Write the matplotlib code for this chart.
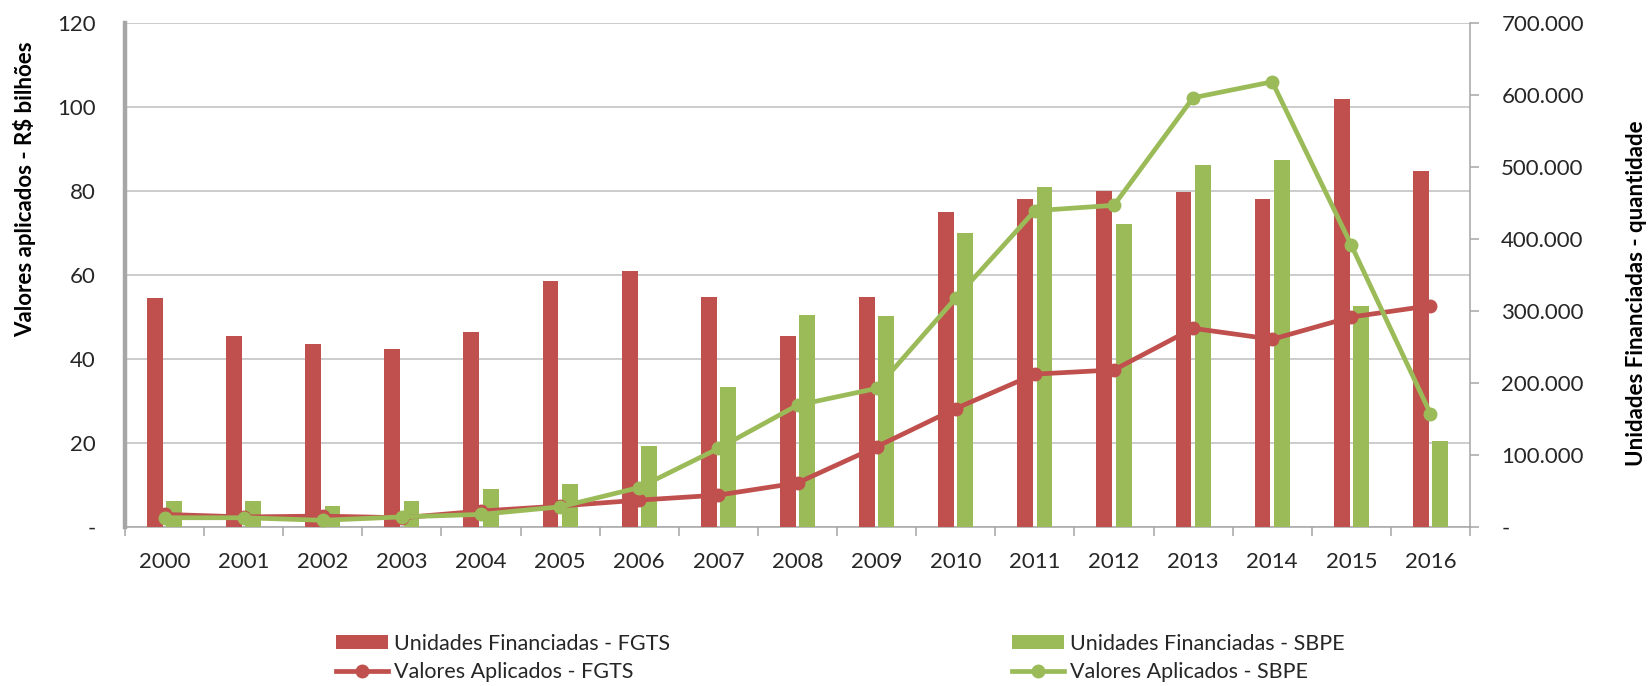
import matplotlib
matplotlib.use("Agg")
import matplotlib.pyplot as plt
import numpy as np
from matplotlib.lines import Line2D
from matplotlib.patches import Patch

plt.rcParams['font.family'] = ['Lato', 'DejaVu Sans']

# ---------------- data ----------------
years = ['2000', '2001', '2002', '2003', '2004', '2005', '2006', '2007', '2008',
         '2009', '2010', '2011', '2012', '2013', '2014', '2015', '2016']
unid_fgts = [318000, 265000, 254000, 247000, 271000, 342000, 356000, 320000, 265000,
             320000, 437000, 455000, 467000, 465000, 455000, 594000, 494000]
unid_sbpe = [36000, 36000, 29000, 36000, 53000, 60000, 112000, 195000, 295000,
             293000, 408000, 472000, 421000, 503000, 510000, 307000, 120000]
val_fgts = [3.0, 2.4, 2.6, 2.2, 3.8, 5.0, 6.4, 7.6, 10.5, 19.1, 28.2, 36.4, 37.4,
            47.3, 44.7, 50.0, 52.7]
val_sbpe = [2.2, 2.2, 1.6, 2.4, 3.0, 4.8, 9.4, 18.7, 29.0, 33.0, 54.5, 75.3, 76.6,
            102.2, 106.0, 67.1, 27.0]
left_ticks = [0, 20, 40, 60, 80, 100, 120]
left_labels = ['-', '20', '40', '60', '80', '100', '120']
right_ticks = [0, 100000, 200000, 300000, 400000, 500000, 600000, 700000]
right_labels = ['-', '100.000', '200.000', '300.000', '400.000', '500.000',
                '600.000', '700.000']
lbl_bar_fgts = 'Unidades Financiadas - FGTS'
lbl_bar_sbpe = 'Unidades Financiadas - SBPE'
lbl_line_fgts = 'Valores Aplicados - FGTS'
lbl_line_sbpe = 'Valores Aplicados - SBPE'
ylabel_left = 'Valores aplicados - R$ bilhões'
ylabel_right = 'Unidades Financiadas - quantidade'

# ---------------- style ----------------
RED = '#C0504D'
GREEN = '#9BBB59'
GRID = '#BFBFBF'
SPINE = '#A6A6A6'
TXT = '#262626'
FS = 16
TFS = 16

W, H = 1651, 686
fig = plt.figure(figsize=(W / 100, H / 100), dpi=100)
L, R, T, B = 125, 1470, 23, 527
rect = [L / W, 1 - B / H, (R - L) / W, (B - T) / H]

ax = fig.add_axes(rect)           # left axis + grid
ax_u = ax.twinx()                 # bars on right axis
ax_l = ax.twinx()                 # lines on left scale, on top

x = np.arange(len(years))
bw = 0.20
off = 0.122
LW = 3.4
MS = 9

ax_u.bar(x - off, unid_fgts, width=bw, color=RED, zorder=2)
ax_u.bar(x + off, unid_sbpe, width=bw, color=GREEN, zorder=2)

ax_l.plot(x, val_fgts, color=RED, lw=LW, marker='o', ms=MS, zorder=3,
          solid_joinstyle='round')
ax_l.plot(x, val_sbpe, color=GREEN, lw=LW, marker='o', ms=MS, zorder=3,
          solid_joinstyle='round')

for a in (ax, ax_u, ax_l):
    a.set_xlim(-0.5, len(years) - 0.5)
    a.patch.set_visible(False)
ax.set_ylim(0, 120)
ax_l.set_ylim(0, 120)
ax_u.set_ylim(0, 700000)

# grid on base axis
ax.set_yticks(left_ticks)
ax.set_yticklabels(left_labels, fontsize=FS, color=TXT)
ax.yaxis.grid(True, color=GRID, lw=1.1)
ax.set_axisbelow(True)
ax.tick_params(axis='y', length=0, pad=21)

# x axis
ax.set_xticks(x)
ax.set_xticklabels(years, fontsize=FS, color=TXT)
ax.set_xticks(np.arange(-0.5, len(years), 1), minor=True)
ax.tick_params(axis='x', which='major', length=0, pad=18)
ax.tick_params(axis='x', which='minor', length=6.5, width=1.1, color=SPINE, direction='out')

# spines
for s in ('top', 'right'):
    ax.spines[s].set_visible(False)
ax.spines['left'].set_color(SPINE)
ax.spines['left'].set_linewidth(3.2)
ax.spines['bottom'].set_color(SPINE)
ax.spines['bottom'].set_linewidth(1.1)

for s in ('top', 'left', 'bottom'):
    ax_u.spines[s].set_visible(False)
ax_u.spines['right'].set_color(SPINE)
ax_u.spines['right'].set_linewidth(1.1)
ax_u.set_yticks(right_ticks)
ax_u.set_yticklabels(right_labels, fontsize=FS, color=TXT)
ax_u.tick_params(axis='y', length=6.5, width=1.1, color=SPINE, pad=16, direction='out')
ax_u.tick_params(axis='x', length=0, labelbottom=False)

ax_l.axis('off')

# axis titles
fig.text(25 / W, 1 - 189 / H, ylabel_left, rotation=90, ha='center', va='center',
         fontsize=TFS, fontweight='bold', color='black')
fig.text(1636 / W, 1 - 293 / H, ylabel_right, rotation=90, ha='center', va='center',
         fontsize=TFS, fontweight='bold', color='black')

# legends
LFS = 15.5
h_bar_f = Patch(facecolor=RED, edgecolor='none')
h_bar_s = Patch(facecolor=GREEN, edgecolor='none')
h_line_f = Line2D([], [], color=RED, lw=LW, marker='o', ms=MS)
h_line_s = Line2D([], [], color=GREEN, lw=LW, marker='o', ms=MS)

leg_kw = dict(frameon=False, fontsize=LFS, handlelength=2.4, handleheight=0.62,
              handletextpad=0.3, labelspacing=0.4, borderpad=0, borderaxespad=0,
              loc='center left', labelcolor=TXT)
leg1 = fig.legend([h_bar_f, h_line_f], [lbl_bar_fgts, lbl_line_fgts],
                  bbox_to_anchor=(336 / W, 1 - 658 / H), **leg_kw)
leg2 = fig.legend([h_bar_s, h_line_s], [lbl_bar_sbpe, lbl_line_sbpe],
                  bbox_to_anchor=(1012 / W, 1 - 658 / H), **leg_kw)

fig.savefig('out.png', dpi=100)
